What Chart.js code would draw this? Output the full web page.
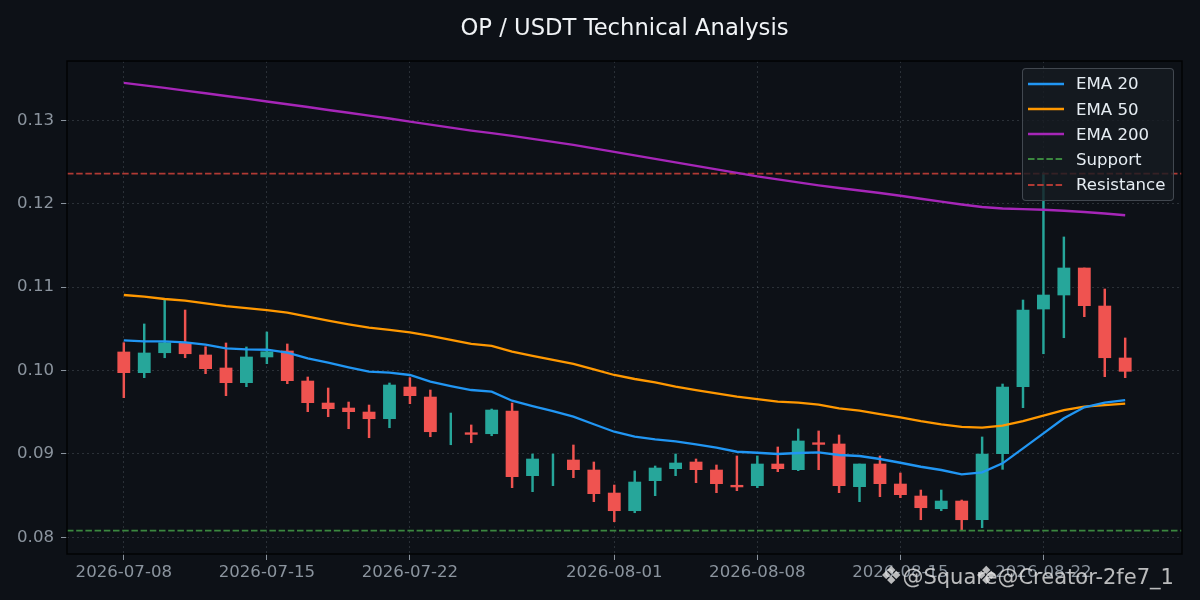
<!DOCTYPE html>
<html>
<head>
<meta charset="utf-8">
<script src="https://cdn.jsdelivr.net/npm/chart.js@4.4.1/dist/chart.umd.min.js"></script>
<style>
html,body{margin:0;padding:0;background:#0d1117;}
#wrap{position:relative;width:1200px;height:600px;overflow:hidden;background:#0d1117;}
canvas{display:block;}
#legend{position:absolute;left:1022px;top:68px;width:152px;height:133px;box-sizing:border-box;background:rgba(22,27,34,0.8);border:1px solid rgba(72,78,86,0.9);border-radius:4px;font-family:'DejaVu Sans',sans-serif;font-size:16.6px;color:#e6edf3;}
.item{position:absolute;left:0;height:25px;display:flex;align-items:center;white-space:nowrap;}
.item svg{margin-left:5px;margin-right:12px;}
.wm{position:absolute;font-family:'DejaVu Sans',sans-serif;font-size:21px;line-height:1;color:rgba(225,225,225,0.82);white-space:nowrap;}
.wm b{font-weight:normal;font-size:25px;}
</style>
</head>
<body>
<div id="wrap">
<canvas id="c" width="1200" height="600"></canvas>
<div id="legend"></div>
<div class="wm" style="left:880px;top:563px"><b>❖</b>@Square</div>
<div class="wm" style="left:975px;top:563px"><b>❖</b>@Creator-2fe7_1</div>
</div>
<script>
const dates = ['2026-07-08','2026-07-09','2026-07-10','2026-07-11','2026-07-12','2026-07-13','2026-07-14','2026-07-15','2026-07-16','2026-07-17',
'2026-07-18','2026-07-19','2026-07-20','2026-07-21','2026-07-22','2026-07-23','2026-07-24','2026-07-25','2026-07-26','2026-07-27',
'2026-07-28','2026-07-29','2026-07-30','2026-07-31','2026-08-01','2026-08-02','2026-08-03','2026-08-04','2026-08-05','2026-08-06',
'2026-08-07','2026-08-08','2026-08-09','2026-08-10','2026-08-11','2026-08-12','2026-08-13','2026-08-14','2026-08-15','2026-08-16',
'2026-08-17','2026-08-18','2026-08-19','2026-08-20','2026-08-21','2026-08-22','2026-08-23','2026-08-24','2026-08-25','2026-08-26'];

const open = [0.10222,0.09974,0.10213,0.10326,0.10186,0.10030,0.09854,0.10162,0.10234,0.09874,
0.09610,0.09550,0.09502,0.09422,0.09802,0.09682,0.09265,0.09254,0.09242,0.09514,
0.08739,0.08805,0.08927,0.08807,0.08531,0.08319,0.08679,0.08823,0.08903,0.08807,
0.08624,0.08619,0.08879,0.08811,0.09134,0.09119,0.08607,0.08879,0.08639,0.08495,
0.08343,0.08435,0.08211,0.09002,0.09806,0.10737,0.10905,0.11229,0.10773,0.10150];
const high = [0.10333,0.10558,0.10845,0.10725,0.10285,0.10330,0.10282,0.10462,0.10318,0.09922,
0.09790,0.09622,0.09586,0.09850,0.09914,0.09766,0.09490,0.09347,0.09538,0.09610,
0.08999,0.08999,0.09107,0.08903,0.08627,0.08795,0.08855,0.08999,0.08939,0.08867,
0.08975,0.08975,0.09083,0.09299,0.09275,0.09227,0.08879,0.08975,0.08771,0.08567,
0.08567,0.08447,0.09203,0.09838,0.10845,0.12368,0.11601,0.11229,0.10977,0.10390];
const low = [0.09674,0.09914,0.10153,0.10153,0.09962,0.09698,0.09806,0.10082,0.09842,0.09506,
0.09446,0.09302,0.09194,0.09314,0.09602,0.09206,0.09110,0.09134,0.09218,0.08595,
0.08547,0.08619,0.08715,0.08427,0.08187,0.08295,0.08499,0.08739,0.08655,0.08535,
0.08559,0.08595,0.08787,0.08799,0.08811,0.08535,0.08427,0.08487,0.08475,0.08211,
0.08319,0.08088,0.08115,0.08815,0.09554,0.10201,0.10393,0.10645,0.09926,0.09914];
const close = [0.09974,0.10210,0.10333,0.10201,0.10022,0.09854,0.10162,0.10225,0.09878,0.09614,
0.09542,0.09506,0.09422,0.09826,0.09698,0.09266,0.09265,0.09234,0.09526,0.08727,
0.08939,0.08805,0.08811,0.08523,0.08319,0.08663,0.08831,0.08891,0.08811,0.08643,
0.08604,0.08879,0.08823,0.09155,0.09114,0.08619,0.08879,0.08643,0.08511,0.08355,
0.08435,0.08211,0.08999,0.09802,0.10725,0.10905,0.11229,0.10777,0.10153,0.09990];

const ema20 = [0.10362,0.10350,0.10350,0.10338,0.10309,0.10266,0.10254,0.10249,0.10213,0.10146,
0.10094,0.10038,0.09986,0.09974,0.09946,0.09866,0.09814,0.09766,0.09746,0.09638,
0.09574,0.09514,0.09446,0.09355,0.09266,0.09206,0.09175,0.09151,0.09115,0.09074,
0.09026,0.09014,0.08999,0.09011,0.09019,0.08987,0.08975,0.08939,0.08894,0.08846,
0.08807,0.08755,0.08779,0.08887,0.09067,0.09247,0.09427,0.09559,0.09614,0.09646];
const ema50 = [0.10905,0.10885,0.10857,0.10837,0.10806,0.10771,0.10749,0.10725,0.10693,0.10645,
0.10597,0.10554,0.10513,0.10486,0.10456,0.10414,0.10366,0.10318,0.10294,0.10225,
0.10174,0.10126,0.10078,0.10014,0.09946,0.09898,0.09858,0.09806,0.09766,0.09727,
0.09686,0.09658,0.09626,0.09614,0.09592,0.09547,0.09518,0.09478,0.09439,0.09394,
0.09355,0.09323,0.09314,0.09338,0.09394,0.09458,0.09526,0.09566,0.09586,0.09602];
const ema200 = [0.13447,0.13417,0.13387,0.13355,0.13324,0.13291,0.13259,0.13225,0.13192,0.13159,
0.13123,0.13090,0.13056,0.13021,0.12985,0.12949,0.12913,0.12877,0.12845,0.12812,
0.12776,0.12740,0.12704,0.12662,0.12620,0.12578,0.12536,0.12494,0.12452,0.12410,
0.12368,0.12326,0.12290,0.12254,0.12220,0.12188,0.12158,0.12128,0.12095,0.12059,
0.12024,0.11990,0.11960,0.11942,0.11934,0.11927,0.11915,0.11900,0.11882,0.11861];

const supportLevel = 0.0808;
const resistanceLevel = 0.1236;
const yTicks = [0.08,0.09,0.10,0.11,0.12,0.13];
const xTickLabels = ['2026-07-08','2026-07-15','2026-07-22','2026-08-01','2026-08-08','2026-08-15','2026-08-22'];
const xMin = -2.78, xMax = 51.78, yMin = 0.078, yMax = 0.1371;

const DAY = 86400000;
const t0 = Date.parse(dates[0]);
const dayIndex = dates.map(d => (Date.parse(d) - t0) / DAY);
const candleColor = close.map((c, i) => c >= open[i] ? '#26a69a' : '#ef5350');

const series = [
  {label:'EMA 20', color:'#2196f3', values: ema20, width:2.3},
  {label:'EMA 50', color:'#ff9800', values: ema50, width:2.3},
  {label:'EMA 200', color:'#a626b8', values: ema200, width:2.3}
];
const levels = [
  {label:'Support', color:'#3b873f', value: supportLevel},
  {label:'Resistance', color:'#b03a34', value: resistanceLevel}
];
const dash = [6.5, 2.7];

const datasets = [];
series.forEach(s => datasets.push({
  type:'line', label:s.label, data: dayIndex.map((x,i)=>({x, y:s.values[i]})),
  borderColor:s.color, borderWidth:s.width, pointRadius:0, tension:0, order:0
}));
levels.forEach(l => datasets.push({
  type:'line', label:l.label, data:[{x:xMin,y:l.value},{x:xMax,y:l.value}],
  borderColor:l.color, borderWidth:1.8, borderDash:dash, pointRadius:0, order:0
}));
datasets.push({
  type:'bar', label:'wick', data: dayIndex.map((x,i)=>({x, y:[low[i], high[i]]})),
  backgroundColor:candleColor, borderWidth:0, barThickness:1.8, grouped:false, order:2
});
datasets.push({
  type:'bar', label:'body',
  data: dayIndex.map((x,i)=>({x, y: open[i] === close[i] ? null : [open[i], close[i]]})),
  backgroundColor:candleColor, borderWidth:0, barThickness:12.2, grouped:false, order:1
});

const frame = {
  id:'frame',
  afterDraw(chart){
    const a = chart.chartArea, ctx = chart.ctx;
    ctx.save();
    ctx.strokeStyle = '#020304';
    ctx.lineWidth = 1.5;
    ctx.strokeRect(a.left, a.top, a.right - a.left, a.bottom - a.top);
    ctx.restore();
  }
};

const tickFont = {family:'DejaVu Sans', size:16.6};
const gridColor = 'rgba(110,118,129,0.32)';

new Chart(document.getElementById('c'), {
  type:'bar',
  data:{datasets},
  plugins:[frame],
  options:{
    responsive:false, animation:false, events:[],
    layout:{padding:{left:0, right:18, top:0, bottom:0}},
    plugins:{
      legend:{display:false},
      tooltip:{enabled:false},
      title:{display:true, text:'OP / USDT Technical Analysis', color:'#f0f3f6', fullSize:false,
        font:{family:'DejaVu Sans', size:22.7, weight:'normal'}, padding:{top:15, bottom:18.8}}
    },
    scales:{
      x:{type:'linear', min:xMin, max:xMax, offset:false,
        afterFit(s){ s.height = 46; },
        afterBuildTicks(s){ s.ticks = xTickLabels.map(l => ({value:(Date.parse(l) - t0) / DAY, label:l})); },
        ticks:{color:'#8b949e', font:tickFont, maxRotation:0, autoSkip:false, padding:3,
          callback(v){ const i = xTickLabels.findIndex(l => (Date.parse(l) - t0) / DAY === v); return i >= 0 ? xTickLabels[i] : ''; }},
        grid:{offset:false, color:gridColor, lineWidth:1, drawTicks:true, tickLength:6, tickColor:'#8b949e', tickWidth:1},
        border:{display:false, dash:[2,3]}
      },
      y:{type:'linear', min:yMin, max:yMax,
        afterFit(s){ s.width = 67; },
        afterBuildTicks(s){ s.ticks = yTicks.map(v => ({value:v})); },
        ticks:{color:'#8b949e', font:tickFont, padding:7, callback(v){ return v.toFixed(2); }},
        grid:{offset:false, color:gridColor, lineWidth:1, drawTicks:true, tickLength:6, tickColor:'#8b949e', tickWidth:1},
        border:{display:false, dash:[2,3]}
      }
    }
  }
});

// legend (HTML overlay)
const legend = document.getElementById('legend');
const items = series.map(s => ({label:s.label, color:s.color, dashed:false, w:2.3}))
  .concat(levels.map(l => ({label:l.label, color:l.color, dashed:true, w:1.8})));
items.forEach((it, i) => {
  const row = document.createElement('div');
  row.className = 'item';
  row.style.top = (2.3 + i * 25.2) + 'px';
  const da = it.dashed ? ` stroke-dasharray="${dash.join(' ')}"` : '';
  row.innerHTML = `<svg width="36" height="10"><line x1="0" y1="5" x2="36" y2="5" stroke="${it.color}" stroke-width="${it.w}"${da}/></svg><span>${it.label}</span>`;
  legend.appendChild(row);
});
</script>
</body>
</html>
